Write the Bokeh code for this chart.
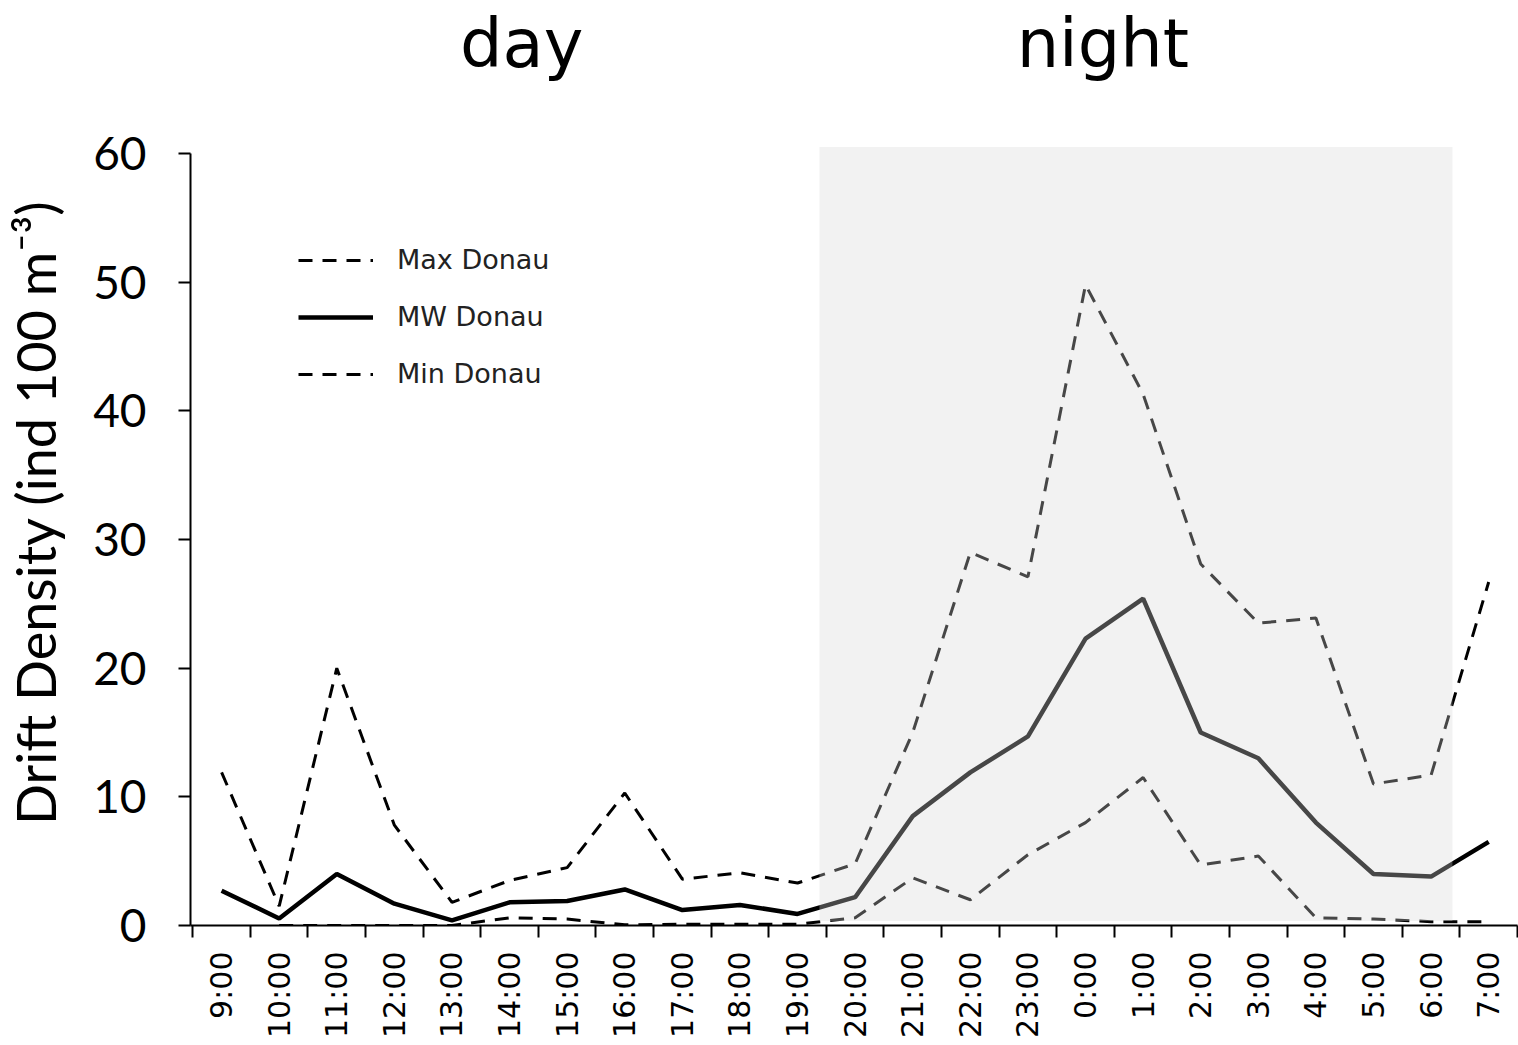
from bokeh.plotting import figure
from bokeh.models import (FixedTicker, BoxAnnotation, Legend, LegendItem, Label,
                          Range1d, ColumnDataSource)
from bokeh.layouts import column
from bokeh.embed import file_html
from bokeh.resources import INLINE
import math

hours = ["9:00", "10:00", "11:00", "12:00", "13:00", "14:00", "15:00", "16:00",
         "17:00", "18:00", "19:00", "20:00", "21:00", "22:00", "23:00", "0:00",
         "1:00", "2:00", "3:00", "4:00", "5:00", "6:00", "7:00"]
max_donau = [11.9, 1.5, 20.0, 7.8, 1.8, 3.5, 4.5, 10.3, 3.6, 4.1, 3.3, 4.8,
             15.0, 29.0, 27.1, 49.8, 41.3, 28.1, 23.5, 23.9, 11.0, 11.7, 26.7]
mw_donau = [2.7, 0.55, 4.0, 1.7, 0.4, 1.8, 1.9, 2.8, 1.2, 1.6, 0.9, 2.2,
            8.5, 11.9, 14.7, 22.3, 25.4, 15.0, 13.0, 8.0, 4.0, 3.8, 6.5]
min_donau = [float("nan"), 0.0, 0.0, 0.0, 0.0, 0.6, 0.5, 0.05, 0.1, 0.1, 0.1, 0.6,
             3.7, 2.0, 5.5, 8.0, 11.5, 4.7, 5.4, 0.6, 0.5, 0.3, 0.3]
y_ticks = [0, 10, 20, 30, 40, 50, 60]
night_start, night_end = 10.38, 21.37
period_labels = ["day", "night"]
period_centers = [5.21, 15.3]

xs = list(range(len(hours)))
src = ColumnDataSource(dict(x=xs, mx=max_donau, mw=mw_donau, mn=min_donau))

# header with the "day" / "night" captions
top = figure(width=1518, height=99, output_backend="svg", toolbar_location=None,
             x_range=Range1d(-0.54, 22.5), y_range=Range1d(99, 0),
             min_border_left=190, min_border_right=1, min_border_top=0,
             min_border_bottom=0)
top.axis.visible = False
top.grid.visible = False
top.outline_line_color = None
for txt, xc in zip(period_labels, period_centers):
    top.add_layout(Label(x=xc, y=43, text=txt, text_align="center",
                         text_baseline="middle", text_font="DejaVu Sans",
                         text_font_size="67px", text_color="black"))

p = figure(width=1518, height=946, output_backend="svg", toolbar_location=None,
           x_range=Range1d(-0.54, 22.5), y_range=Range1d(0, 64.2),
           min_border_left=190, min_border_right=1, min_border_top=0,
           min_border_bottom=120)
p.outline_line_color = None
p.xgrid.grid_line_color = None
p.ygrid.grid_line_color = None
p.background_fill_color = "white"

r_max = p.line("x", "mx", source=src, line_color="black", line_width=3,
               line_dash="14 10")
r_mw = p.line("x", "mw", source=src, line_color="black", line_width=4.5)
r_min = p.line("x", "mn", source=src, line_color="black", line_width=3,
               line_dash="14 10")

shade = BoxAnnotation(left=night_start, right=night_end, bottom=0.35, top=60.5,
                      fill_color="#d7d7d7", fill_alpha=0.33, line_color=None,
                      level="overlay")
p.add_layout(shade)

# x axis
xa = p.xaxis[0]
xa.ticker = FixedTicker(ticks=xs, minor_ticks=[i - 0.5 for i in range(len(hours) + 1)])
xa.major_label_overrides = {i: h for i, h in enumerate(hours)}
xa.major_label_orientation = math.pi / 2
xa.major_tick_out = 0
xa.major_tick_in = 0
xa.minor_tick_out = 12
xa.minor_tick_in = 0
xa.axis_line_width = 2
xa.minor_tick_line_width = 2
xa.major_label_text_font = "DejaVu Sans"
xa.major_label_text_font_size = "30px"
xa.major_label_text_color = "black"
xa.major_label_standoff = 14
xa.axis_line_color = "black"

# y axis
ya = p.yaxis[0]
ya.ticker = FixedTicker(ticks=y_ticks)
ya.bounds = (0, 60)
ya.minor_tick_line_color = None
ya.major_tick_out = 12
ya.major_tick_in = 0
ya.axis_line_width = 2
ya.major_tick_line_width = 2
ya.major_label_text_font = "Lato"
ya.major_label_text_font_size = "46px"
ya.major_label_text_color = "black"
ya.major_label_standoff = 32
ya.axis_label = "Drift Density (ind 100 m\u207b\u00b3)"
ya.axis_label_text_font = "Lato"
ya.axis_label_text_font_style = "normal"
ya.axis_label_text_font_size = "54px"
ya.axis_label_text_color = "black"
ya.axis_label_standoff = 22

legend = Legend(items=[LegendItem(label="Max Donau", renderers=[r_max]),
                       LegendItem(label="MW Donau", renderers=[r_mw]),
                       LegendItem(label="Min Donau", renderers=[r_min])],
                location=(108, 536), glyph_width=75, glyph_height=30,
                label_height=30, spacing=26, label_standoff=24, padding=0,
                margin=0, border_line_color=None, background_fill_alpha=0,
                label_text_font="DejaVu Sans", label_text_font_size="27px",
                label_text_color="#222222")
p.add_layout(legend)

layout = column(top, p, spacing=0)
open("out.html", "w").write(file_html(layout, INLINE))
